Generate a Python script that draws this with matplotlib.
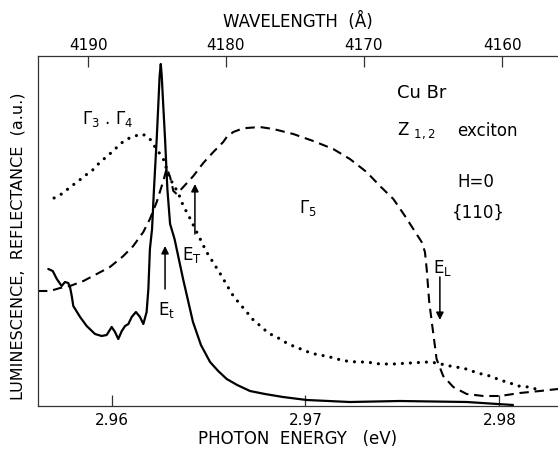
import matplotlib
matplotlib.use("Agg")
import matplotlib.pyplot as plt
import numpy as np

plt.rcParams['font.family'] = ['DejaVu Sans']

# ---------------- data (photon energy in eV, signal in arbitrary units) ----------------
lum_E = [2.95674, 2.95697, 2.95718, 2.95743, 2.95760, 2.95777, 2.95786, 2.95795, 2.95803,
         2.95838, 2.95872, 2.95915, 2.95949, 2.95975, 2.96001, 2.96018, 2.96035, 2.96053,
         2.96070, 2.96087, 2.96104, 2.96126, 2.96147, 2.96164, 2.96181, 2.96190, 2.96198,
         2.96209, 2.96219, 2.96233, 2.96241, 2.96248, 2.96254, 2.96259, 2.96265, 2.96276,
         2.96288, 2.96302, 2.96325, 2.96369, 2.96420, 2.96461, 2.96508, 2.96550, 2.96594,
         2.96648, 2.96714, 2.96791, 2.96884, 2.97006, 2.97229, 2.97487, 2.97831, 2.98070]
lum_I = [137, 135, 127, 120, 124, 123, 119, 110, 100,
         89, 80, 72, 70, 71, 79, 74, 67, 75,
         80, 82, 89, 94, 89, 82, 94, 117, 157,
         177, 217, 267, 300, 330, 342, 330, 307, 267,
         217, 182, 167, 127, 84, 61, 44, 35, 27,
         21, 15, 12, 9, 6, 4, 5, 4, 1]

r34_E = [2.95704, 2.95752, 2.95786, 2.95824, 2.95860, 2.95898, 2.95932, 2.95972, 2.96009,
         2.96044, 2.96081, 2.96121, 2.96159, 2.96195, 2.96221, 2.96250, 2.96276, 2.96286,
         2.96302, 2.96327, 2.96353, 2.96370, 2.96396, 2.96419, 2.96439, 2.96465, 2.96487,
         2.96513, 2.96542, 2.96568, 2.96594, 2.96628, 2.96662, 2.96697, 2.96731, 2.96774,
         2.96808, 2.96860, 2.96911, 2.96963, 2.97014, 2.97066, 2.97109, 2.97161, 2.97212,
         2.97264, 2.97315, 2.97384, 2.97453, 2.97539, 2.97633, 2.97679, 2.97719, 2.97771,
         2.97813, 2.97857, 2.97908, 2.97951, 2.98003, 2.98054, 2.98097, 2.98149, 2.98188]
r34_R = [208, 213, 219, 224, 230, 235, 242, 249, 255,
         262, 267, 270, 272, 268, 260, 252, 244, 234,
         227, 219, 209, 200, 191, 182, 174, 164, 155,
         147, 138, 130, 121, 110, 102, 94, 86, 79,
         73, 68, 62, 58, 54, 51, 50, 47, 45,
         44, 44, 42, 42, 43, 44, 43, 41, 39,
         38, 35, 32, 30, 26, 23, 20, 19, 17]

r5_E = [2.95621, 2.95683, 2.95735, 2.95786, 2.95855, 2.95924, 2.95992, 2.96061, 2.96112,
        2.96164, 2.96198, 2.96233, 2.96267, 2.96285, 2.96302, 2.96319, 2.96336, 2.96370,
        2.96422, 2.96473, 2.96525, 2.96576, 2.96594, 2.96628, 2.96662, 2.96697, 2.96765,
        2.96834, 2.96937, 2.97040, 2.97143, 2.97229, 2.97315, 2.97384, 2.97453, 2.97513,
        2.97556, 2.97599, 2.97616, 2.97625, 2.97638, 2.97656, 2.97676, 2.97710, 2.97762,
        2.97831, 2.97917, 2.98003, 2.98106, 2.98209, 2.98302]
r5_R = [115, 115, 118, 120, 125, 132, 139, 150, 160,
        174, 187, 204, 225, 238, 229, 215, 212, 219,
        230, 243, 254, 264, 269, 274, 276.5, 278, 279,
        277, 272, 265, 257, 247, 234, 220, 207, 190,
        177, 164, 154, 137, 104, 77, 47, 30, 19,
        12, 10, 10, 13, 15, 17]

energy_ticks = [2.96, 2.97, 2.98]
energy_ticklabels = ["2.96", "2.97", "2.98"]
wavelength_ticks = [4190, 4180, 4170, 4160]

# arrows: (energy, tail value, head value)
arrow_Et = (2.96276, 117, 160)
arrow_ET = (2.96430, 172, 222)
arrow_EL = (2.97693, 129, 86)

HC = 12397.4  # eV*Angstrom used for the top scale

# ---------------- figure ----------------
fig = plt.figure(figsize=(5.58, 4.52), dpi=100)
ax = fig.add_axes([38/558, 45/452, 520/558, 350/452])

ax.plot(lum_E, lum_I, color='black', lw=1.6, solid_joinstyle='round', solid_capstyle='round')
ax.plot(r34_E, r34_R, color='black', lw=2.3, linestyle=(0, (0.01, 2.5)),
        dash_capstyle='round')
ax.plot(r5_E, r5_R, color='black', lw=1.5, linestyle=(0, (4.5, 2.8)))

ax.set_xlim(2.95621, 2.98302)
ax.set_ylim(0, 350)

frame_c = '#333333'
for s in ['right', 'top']:
    ax.spines[s].set_visible(False)
for s in ['left', 'bottom']:
    ax.spines[s].set_color(frame_c)
    ax.spines[s].set_linewidth(0.9)

ax.set_yticks([])
ax.set_xticks(energy_ticks)
ax.set_xticklabels(energy_ticklabels)
ax.tick_params(axis='x', direction='in', length=8, width=0.9, color=frame_c,
               labelsize=11, pad=4)
ax.set_xlabel("PHOTON  ENERGY   (eV)", fontsize=12, labelpad=2)

sec = ax.secondary_xaxis('top', functions=(lambda E: HC / np.asarray(E, float),
                                           lambda L: HC / np.asarray(L, float)))
sec.set_xticks(wavelength_ticks)
sec.set_xticklabels([str(t) for t in wavelength_ticks])
sec.tick_params(axis='x', direction='in', length=8, width=0.9, color=frame_c,
                labelsize=11, pad=3)
sec.spines['top'].set_color(frame_c)
sec.spines['top'].set_linewidth(0.9)
sec.set_xlabel("WAVELENGTH  (Å)", fontsize=12, labelpad=8)

fig.text(18/558, (452-246)/452, "LUMINESCENCE,  REFLECTANCE  (a.u.)", rotation=90,
         ha='center', va='center', fontsize=11.5)

# arrows
for (e, t, h) in [arrow_Et, arrow_ET, arrow_EL]:
    ax.annotate('', xy=(e, h), xytext=(e, t),
                arrowprops=dict(arrowstyle='-|>', color='black', lw=1.1,
                                mutation_scale=11, shrinkA=0, shrinkB=0))

ax.text(2.96286, 97, r"E$_\mathregular{t}$", fontsize=12, ha='center', va='center')
ax.text(2.96413, 152, r"E$_\mathregular{T}$", fontsize=12, ha='center', va='center')
ax.text(2.97709, 139, r"E$_\mathregular{L}$", fontsize=12, ha='center', va='center')

ax.text(2.95982, 288, r"Γ$_\mathregular{3}$ . Γ$_\mathregular{4}$", fontsize=12,
        ha='center', va='center')
ax.text(2.97013, 199, r"Γ$_\mathregular{5}$", fontsize=12, ha='center', va='center')

ax.text(2.97472, 314, "Cu Br", fontsize=13, ha='left', va='center')
ax.text(2.97472, 276, r"Z $_\mathregular{1,2}$", fontsize=12, ha='left', va='center')
ax.text(2.97781, 276, "exciton", fontsize=12, ha='left', va='center')
ax.text(2.97781, 225, "H=0", fontsize=12, ha='left', va='center')
ax.text(2.97755, 194, "{110}", fontsize=12, ha='left', va='center')

fig.savefig("out.png", dpi=100)
